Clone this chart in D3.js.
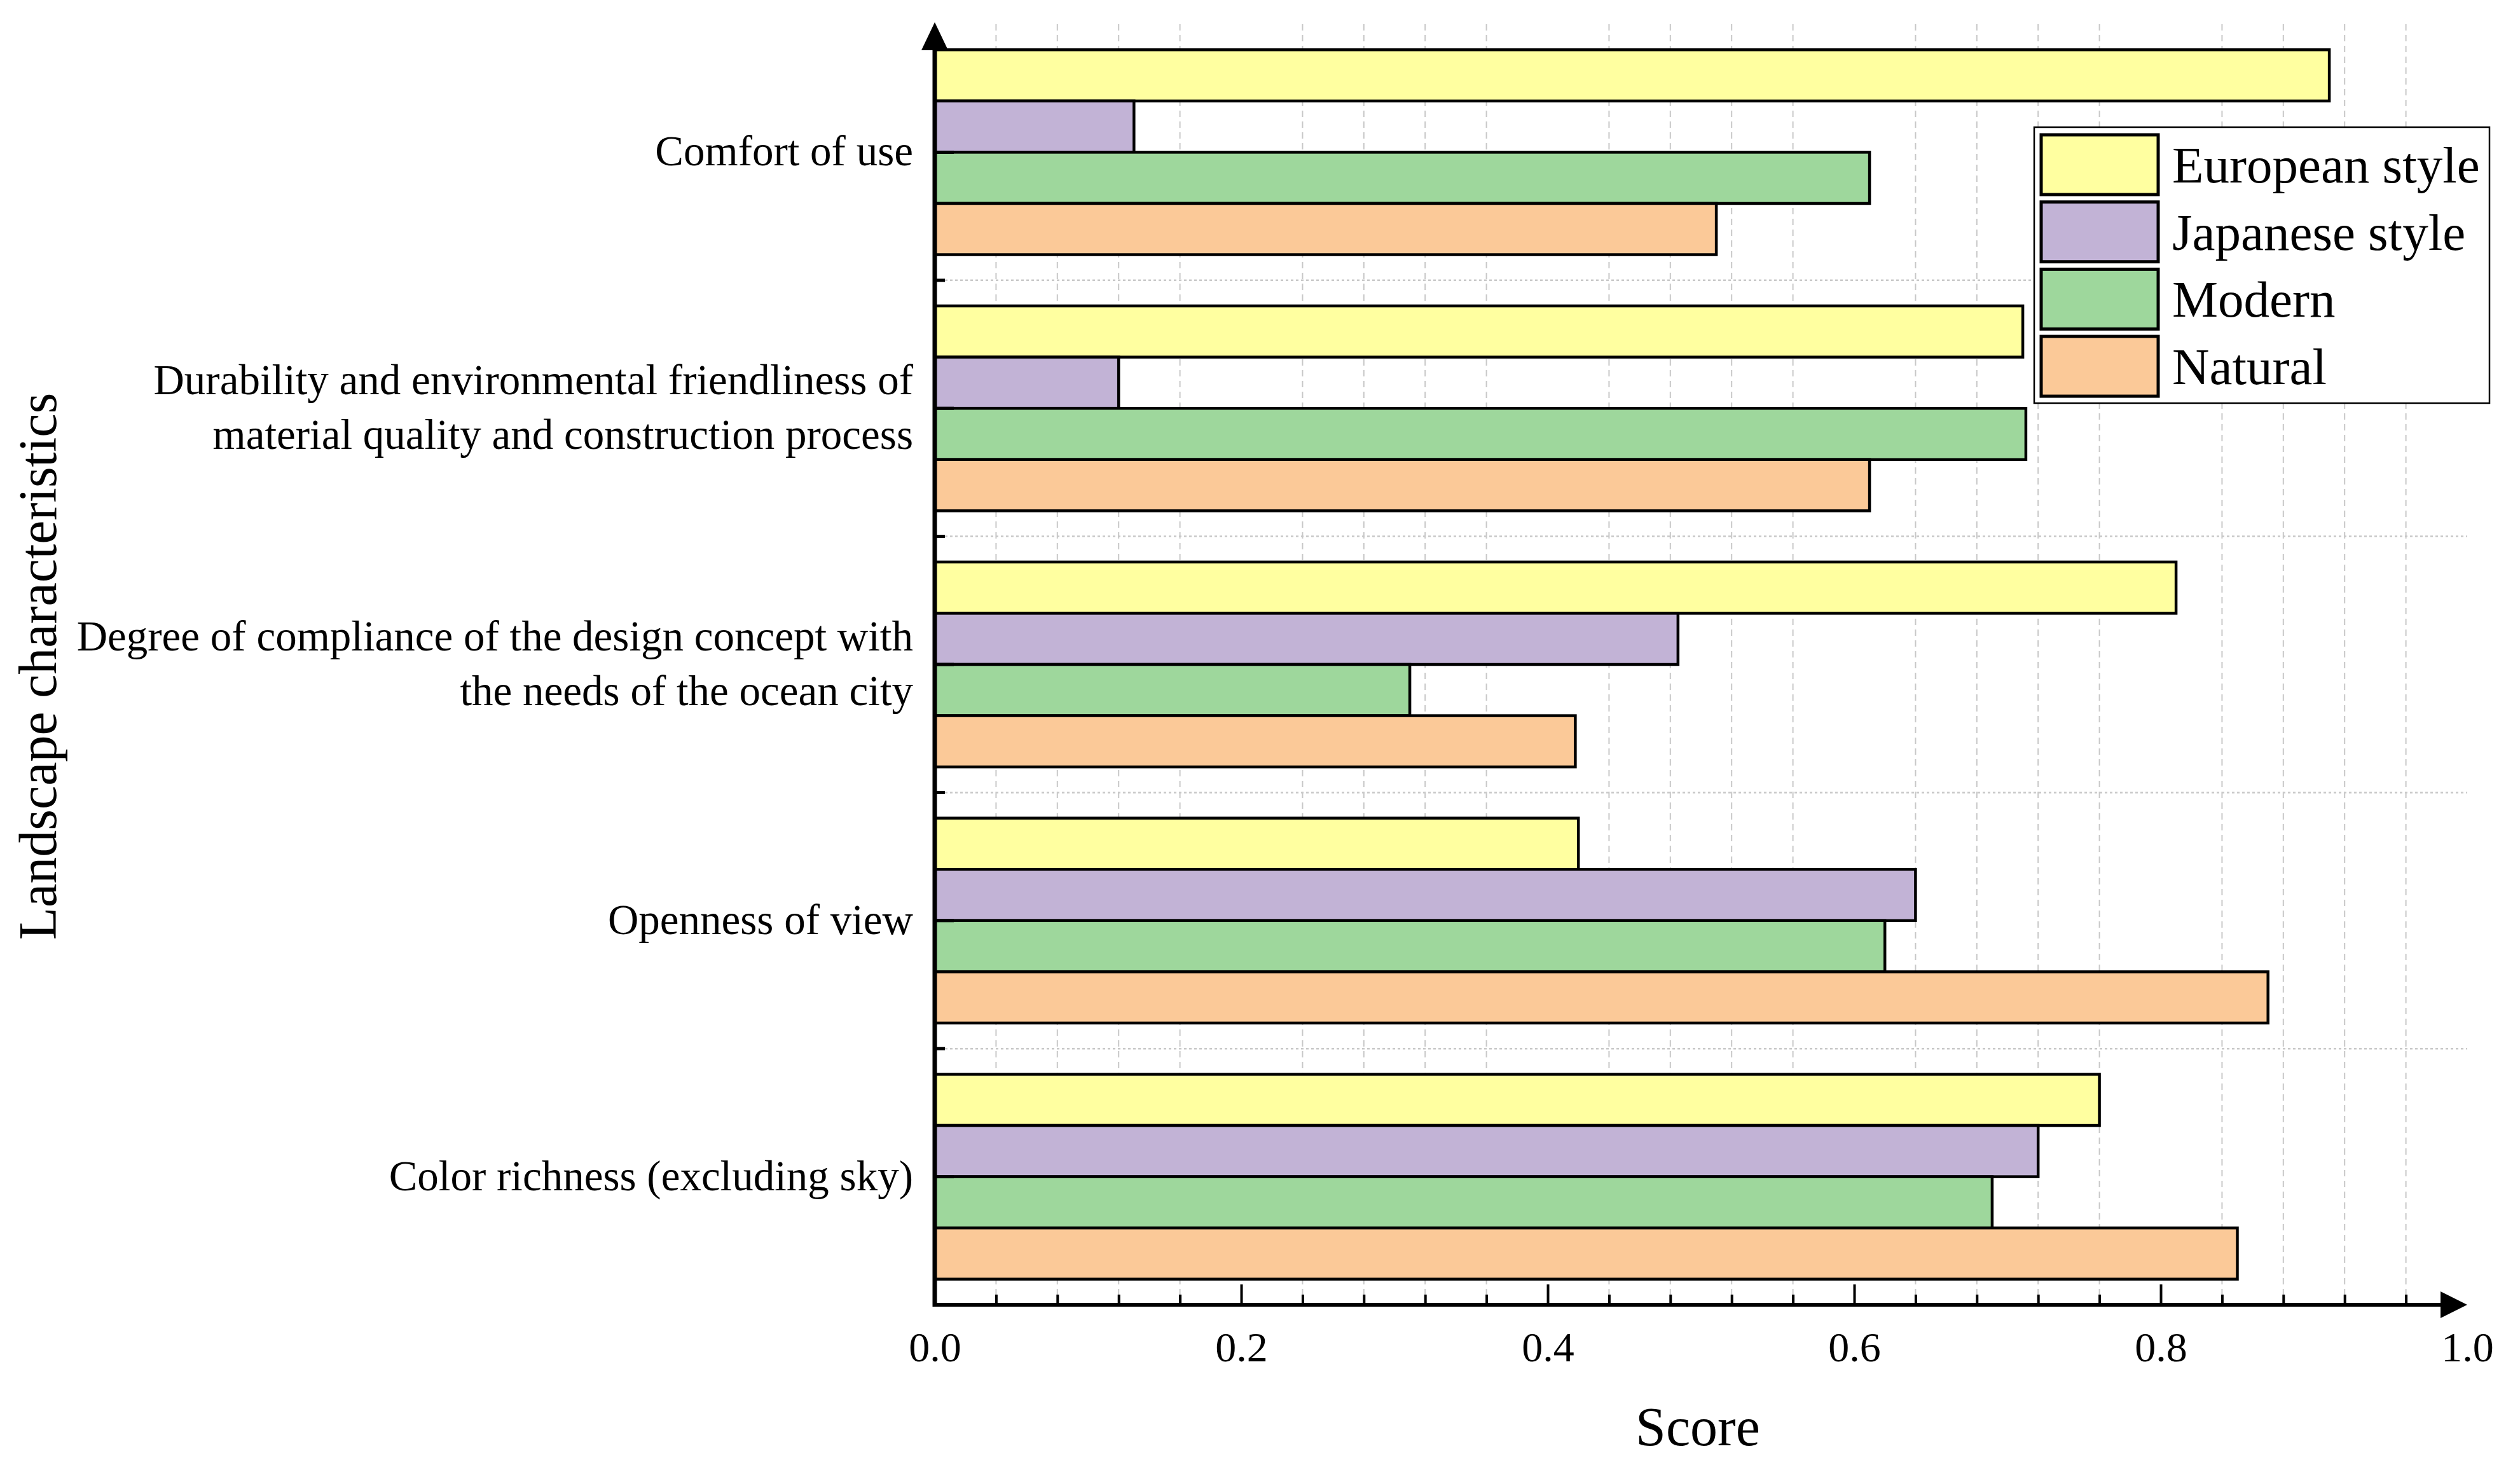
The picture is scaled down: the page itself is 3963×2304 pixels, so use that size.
<!doctype html>
<html lang="en">
  <head>
    <meta charset="UTF-8" />
    <title>Landscape characteristics score</title>
    <script src="https://d3js.org/d3.v7.min.js"></script>
    <style>
      body { margin: 0; background: #fff; }
      text { font-family: "Liberation Serif", "Times New Roman", serif; fill: #000; }
    </style>
  </head>
  <body>
    <svg width="3963" height="2304"></svg>
    <script>
      // categories top to bottom, label lines for each
      const categories = ["Comfort", "Durability", "Degree", "Openness", "Color"];
      const categoryLabels = [
        ["Comfort of use"],
        ["Durability and environmental friendliness of", "material quality and construction process"],
        ["Degree of compliance of the design concept with", "the needs of the ocean city"],
        ["Openness of view"],
        ["Color richness (excluding sky)"],
      ];
      const series = ["European style", "Japanese style", "Modern", "Natural"];
      const colors = ["#ffffa0", "#c2b3d6", "#9ed79c", "#fbc998"];

      // values per series, in category order
      const european = [0.91, 0.71, 0.81, 0.42, 0.76];
      const japanese = [0.13, 0.12, 0.485, 0.64, 0.72];
      const modern = [0.61, 0.712, 0.31, 0.62, 0.69];
      const natural = [0.51, 0.61, 0.418, 0.87, 0.85];
      const values = [european, japanese, modern, natural];

      const majorTicks = [0, 0.2, 0.4, 0.6, 0.8, 1.0];
      const minorTicks = d3.range(1, 25).map((i) => i * 0.04).filter((v) => Math.abs(v / 0.2 - Math.round(v / 0.2)) > 1e-6);

      const svg = d3.select("svg");
      const plotLeft = 1470, plotRight = 3880, plotTop = 38, plotBottom = 2052;

      const x = d3.scaleLinear().domain([0, 1]).range([plotLeft, plotRight]);
      const y = d3.scaleBand().domain(categories).range([plotTop, plotBottom]).paddingInner(0.2).paddingOuter(0.1);
      const ys = d3.scaleBand().domain(series).range([0, y.bandwidth()]);
      const color = d3.scaleOrdinal().domain(series).range(colors);

      const step = y.step();
      const separators = categories.slice(0, -1).map((c) => y(c) + y.bandwidth() + step * 0.1);

      // grid
      const grid = svg.append("g");
      grid.selectAll("line.v")
        .data(minorTicks)
        .enter()
        .append("line")
        .attr("x1", (d) => x(d)).attr("x2", (d) => x(d))
        .attr("y1", plotTop).attr("y2", plotBottom)
        .attr("stroke", "#c8c8c8").attr("stroke-width", 2)
        .attr("stroke-dasharray", "10,7");
      grid.selectAll("line.h")
        .data(separators)
        .enter()
        .append("line")
        .attr("x1", plotLeft).attr("x2", plotRight)
        .attr("y1", (d) => d).attr("y2", (d) => d)
        .attr("stroke", "#c8c8c8").attr("stroke-width", 2.5)
        .attr("stroke-dasharray", "4,4");

      // bars
      const bars = [];
      categories.forEach((c, i) => {
        series.forEach((s, j) => bars.push({ cat: c, s: s, v: values[j][i] }));
      });
      svg.append("g")
        .selectAll("rect")
        .data(bars)
        .enter()
        .append("rect")
        .attr("x", x(0))
        .attr("y", (d) => y(d.cat) + ys(d.s))
        .attr("width", (d) => x(d.v) - x(0))
        .attr("height", ys.bandwidth())
        .attr("fill", (d) => color(d.s))
        .attr("stroke", "#000")
        .attr("stroke-width", 4.5);

      // x axis
      const xMajor = svg.append("g")
        .attr("transform", `translate(0,${plotBottom})`)
        .call(d3.axisBottom(x).tickValues(majorTicks).tickSize(-32).tickPadding(42).tickFormat(d3.format(".1f")));
      xMajor.selectAll("text").style("font-size", "66px").style("font-family", "Liberation Serif");
      const xMinor = svg.append("g")
        .attr("transform", `translate(0,${plotBottom})`)
        .call(d3.axisBottom(x).tickValues(minorTicks).tickSize(-16).tickFormat(""));
      [xMajor, xMinor].forEach((g) => {
        g.select(".domain").remove();
        g.selectAll(".tick line").attr("stroke", "#000").attr("stroke-width", 4);
      });
      xMajor.selectAll(".tick").filter((d) => d === 1).select("line").remove();

      // y axis
      const yAxis = svg.append("g")
        .attr("transform", `translate(${plotLeft},0)`)
        .call(d3.axisLeft(y).tickSize(-30).tickFormat(""));
      yAxis.select(".domain").remove();
      yAxis.selectAll(".tick line").attr("stroke", "#000").attr("stroke-width", 5);
      svg.append("g")
        .selectAll("line")
        .data(separators)
        .enter()
        .append("line")
        .attr("x1", plotLeft).attr("x2", plotLeft + 16)
        .attr("y1", (d) => d).attr("y2", (d) => d)
        .attr("stroke", "#000").attr("stroke-width", 5);

      // axis lines with arrows
      const aLen = 42, aHalf = 21;
      svg.append("line")
        .attr("x1", plotLeft).attr("x2", x(1) - aLen + 2)
        .attr("y1", plotBottom).attr("y2", plotBottom)
        .attr("stroke", "#000").attr("stroke-width", 6);
      svg.append("path")
        .attr("d", `M${x(1)},${plotBottom} L${x(1) - aLen},${plotBottom - aHalf} L${x(1) - aLen},${plotBottom + aHalf} Z`)
        .attr("fill", "#000");
      const yTip = 35;
      svg.append("line")
        .attr("x1", plotLeft).attr("x2", plotLeft)
        .attr("y1", plotBottom + 3).attr("y2", yTip + aLen)
        .attr("stroke", "#000").attr("stroke-width", 7);
      svg.append("path")
        .attr("d", `M${plotLeft},${yTip} L${plotLeft - aHalf},${yTip + aLen + 2} L${plotLeft + aHalf},${yTip + aLen + 2} Z`)
        .attr("fill", "#000");

      // category labels
      const lineH = 86;
      const lab = svg.append("g")
        .selectAll("text")
        .data(categories)
        .enter()
        .append("text")
        .attr("text-anchor", "end")
        .style("font-size", "67px")
        .attr("y", (d) => y(d) + y.bandwidth() / 2 + 21);
      lab.each(function (d, i) {
        const lines = categoryLabels[i];
        const off = -((lines.length - 1) * lineH) / 2;
        d3.select(this)
          .selectAll("tspan")
          .data(lines)
          .enter()
          .append("tspan")
          .attr("x", 1436)
          .attr("dy", (l, k) => (k === 0 ? off : lineH))
          .text((l) => l);
      });

      // axis titles
      svg.append("text")
        .attr("x", (plotLeft + plotRight) / 2 - 5)
        .attr("y", 2273)
        .attr("text-anchor", "middle")
        .style("font-size", "86px")
        .text("Score");
      svg.append("text")
        .attr("transform", "translate(88,1048) rotate(-90)")
        .attr("text-anchor", "middle")
        .style("font-size", "84px")
        .text("Landscape characteristics");

      // legend
      const lg = svg.append("g").attr("transform", "translate(3199,200)");
      lg.append("rect")
        .attr("width", 716).attr("height", 434)
        .attr("fill", "#fff").attr("stroke", "#000").attr("stroke-width", 2.5);
      const item = lg.selectAll("g.item")
        .data(series)
        .enter()
        .append("g")
        .attr("transform", (d, i) => `translate(11,${12 + i * 105.7})`);
      item.append("rect")
        .attr("width", 184).attr("height", 94)
        .attr("fill", (d) => color(d))
        .attr("stroke", "#000").attr("stroke-width", 5);
      item.append("text")
        .attr("x", 206)
        .attr("y", 75)
        .style("font-size", "81px")
        .text((d) => d);
    </script>
  </body>
</html>
